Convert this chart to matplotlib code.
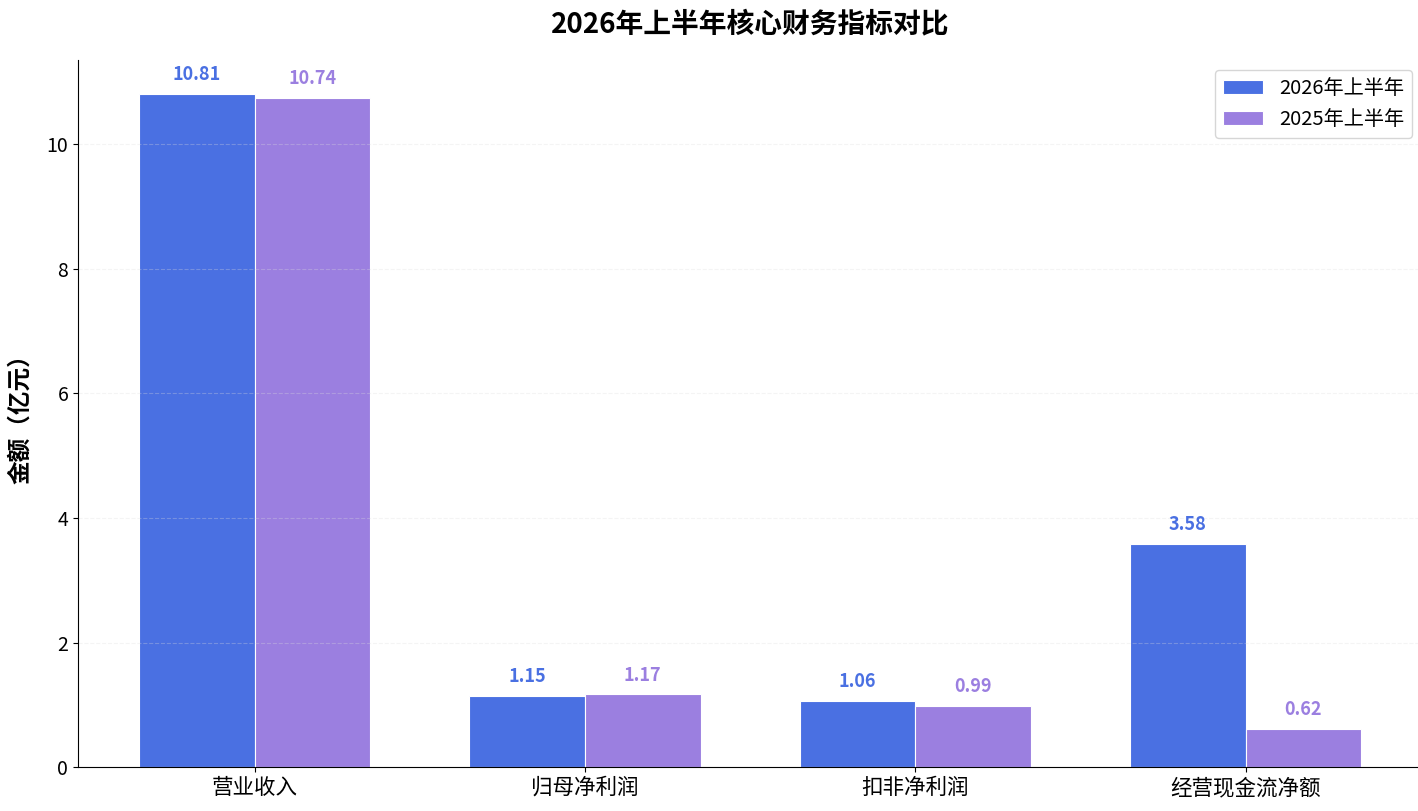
import matplotlib.pyplot as plt
import numpy as np

plt.rcParams['font.family'] = ['Noto Sans CJK SC', 'DejaVu Sans']
plt.rcParams['axes.unicode_minus'] = False

categories = ["营业收入", "归母净利润", "扣非净利润", "经营现金流净额"]
h1_2026 = [10.81, 1.15, 1.06, 3.58]
h1_2025 = [10.74, 1.17, 0.99, 0.62]
series_names = ["2026年上半年", "2025年上半年"]

c1 = "#4A70E2"
c2 = "#9B7FE0"

fig = plt.figure(figsize=(14.18, 8.11), dpi=100)
ax = fig.add_axes([0.055, 0.054, 0.948, 0.872])

x = np.arange(len(categories))
w = 0.35
b1 = ax.bar(x - w / 2, h1_2026, w, color=c1, edgecolor="white", linewidth=0.8, label=series_names[0])
b2 = ax.bar(x + w / 2, h1_2025, w, color=c2, edgecolor="white", linewidth=0.8, label=series_names[1])

for bars, col in ((b1, c1), (b2, c2)):
    for b in bars:
        h = b.get_height()
        ax.annotate(f"{h:.2f}", (b.get_x() + b.get_width() / 2, h),
                    xytext=(0, 7), textcoords="offset points",
                    ha="center", va="bottom", fontsize=13, fontweight="bold", color=col)

ax.set_xticks(x)
ax.set_xticklabels(categories, fontsize=15.5)
ax.tick_params(axis="y", labelsize=14)
ax.set_ylim(0, 11.35)
ax.set_ylabel("金额（亿元）", fontsize=17, fontweight="bold", labelpad=10)
ax.set_title("2026年上半年核心财务指标对比", fontsize=20, fontweight="bold", pad=20)

ax.grid(axis="y", linestyle="--", alpha=0.3, color="#dddddd")
ax.spines["top"].set_visible(False)
ax.spines["right"].set_visible(False)
ax.legend(loc="upper right", fontsize=14.5)

fig.savefig("out.png", dpi=100)
